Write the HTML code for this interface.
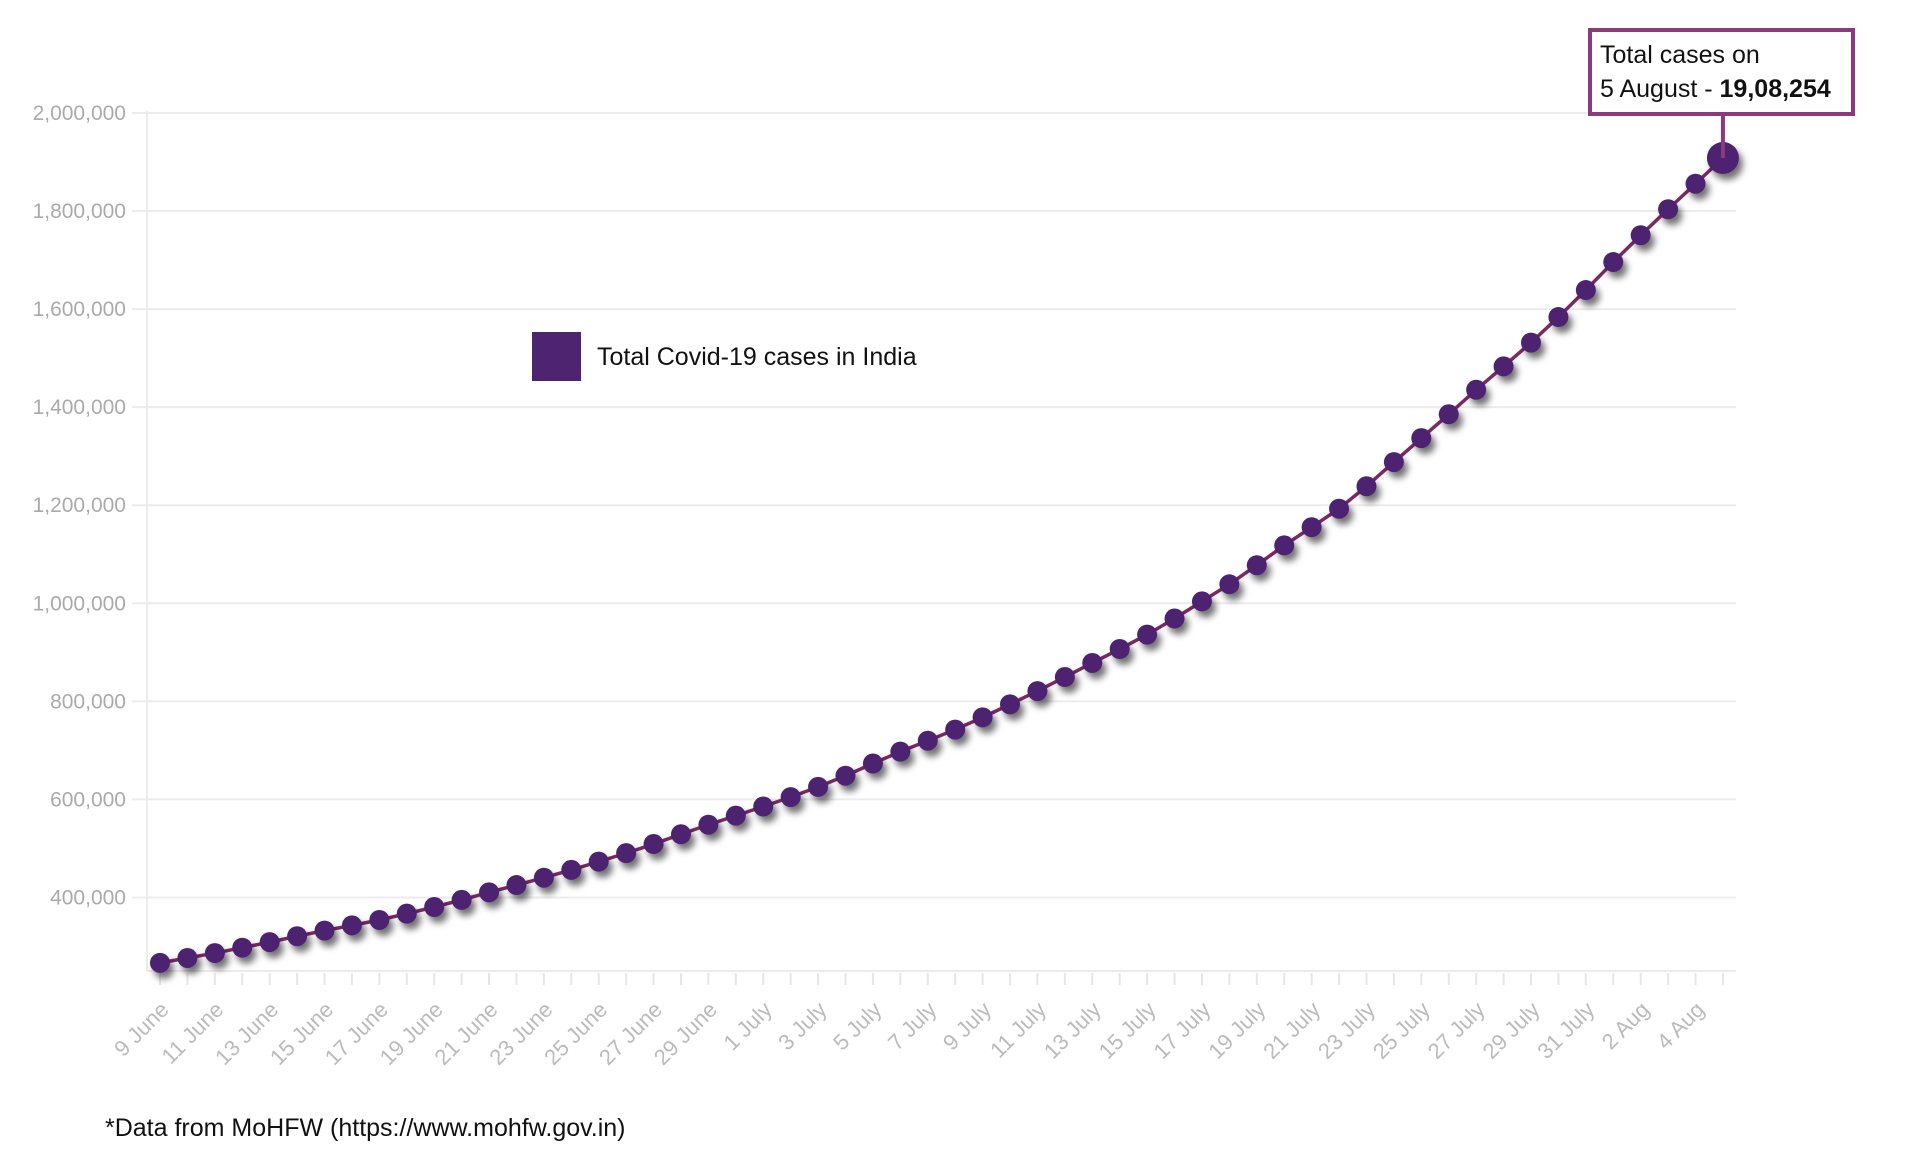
<!DOCTYPE html>
<html><head><meta charset="utf-8"><style>
html,body{margin:0;padding:0;background:#fff;}
svg{display:block;font-family:"Liberation Sans",sans-serif;}
</style></head><body>
<svg id="chart" width="1920" height="1154" viewBox="0 0 1920 1154">
<defs>
<filter id="sh" x="-60%" y="-60%" width="260%" height="260%">
<feDropShadow dx="4" dy="6" stdDeviation="3.5" flood-color="#000" flood-opacity="0.55"/>
</filter>
</defs>
<g id="grid"></g>
<g id="yaxis"></g>
<g id="xaxis"></g>
<g id="series"></g>
<g>
<rect x="532" y="332" width="49" height="49" fill="#4e2470"/>
<text x="597" y="365" font-size="25" fill="#111">Total Covid-19 cases in India</text>
</g>
<g>
<line id="callLine" x1="1723" y1="115" x2="1723" y2="140" stroke="#8b3a7e" stroke-width="4"/>
<rect x="1590" y="30" width="263" height="84" fill="#fff" stroke="#8b3a7e" stroke-width="4"/>
<text x="1600" y="63" font-size="25" fill="#111">Total cases on</text>
<text x="1600" y="97" font-size="25" fill="#111">5 August - <tspan font-weight="bold">19,08,254</tspan></text>
</g>
<text x="105" y="1136" font-size="25" fill="#111">*Data from MoHFW (https://www.mohfw.gov.in)</text>
</svg>
<script>
const dates = ["9 June","10 June","11 June","12 June","13 June","14 June","15 June","16 June","17 June","18 June","19 June","20 June","21 June","22 June","23 June","24 June","25 June","26 June","27 June","28 June","29 June","30 June","1 July","2 July","3 July","4 July","5 July","6 July","7 July","8 July","9 July","10 July","11 July","12 July","13 July","14 July","15 July","16 July","17 July","18 July","19 July","20 July","21 July","22 July","23 July","24 July","25 July","26 July","27 July","28 July","29 July","30 July","31 July","1 Aug","2 Aug","3 Aug","4 Aug","5 Aug"];
const cases = [266598,276583,286579,297535,308993,320922,332424,343091,354065,366946,380532,395048,410461,425282,440215,456183,473105,490401,508953,528859,548318,566840,585493,604641,625544,648315,673165,697413,719665,742417,767296,793802,820916,849553,878254,906752,936181,968876,1003832,1038716,1077618,1118043,1155191,1192915,1238635,1287945,1336861,1385522,1435453,1483156,1531669,1583792,1638870,1695988,1750723,1803695,1855745,1908254];
const yTicks = [400000,600000,800000,1000000,1200000,1400000,1600000,1800000,2000000];
const yMin = 250000, yMax = 2000000;

const NS = "http://www.w3.org/2000/svg";
const X0 = 160, DX = 27.42, Y0 = 971, Y1 = 113;
function xs(i){ return X0 + i*DX; }
function ys(v){ return Y0 - (v - yMin)/(yMax - yMin)*(Y0 - Y1); }
function mk(tag, attrs, parent){ const e = document.createElementNS(NS, tag); for (const k in attrs) e.setAttribute(k, attrs[k]); parent.appendChild(e); return e; }

const grid = document.getElementById('grid'), yax = document.getElementById('yaxis'), xax = document.getElementById('xaxis'), ser = document.getElementById('series');
yTicks.forEach(t => {
  const y = ys(t);
  const l = mk('line', {x1:132, x2:1736, y1:y, y2:y, stroke:'#ececec', 'stroke-width':2}, grid);
  
  
  const tx = mk('text', {x:126, y:y+7, 'font-size':21, fill:'#aaa', 'text-anchor':'end'}, yax);
  tx.textContent = t.toLocaleString('en-US');
  
  
});
const base = mk('line', {x1:147, x2:1736, y1:Y0, y2:Y0, stroke:'#ececec', 'stroke-width':2}, grid);


const vax = mk('line', {x1:147, x2:147, y1:Y1-2, y2:Y0, stroke:'#ececec', 'stroke-width':2}, grid);



dates.forEach((d, i) => {
  const x = xs(i);
  const tk = mk('line', {x1:x, x2:x, y1:Y0+2, y2:Y0+14, stroke:'#e6e6e6', 'stroke-width':2}, xax);
  
  
  if (i % 2 === 0 && i < dates.length - 1) {
    const t = mk('text', {x:x+10, y:Y0+40, 'font-size':22, fill:'#bbb', 'text-anchor':'end', transform:`rotate(-45 ${x+10} ${Y0+40})`}, xax);
    t.textContent = d;
    
    
  }
});

const pts = cases.map((v, i) => xs(i) + ',' + ys(v)).join(' ');
const pl = mk('polyline', {points:pts, fill:'none', stroke:'#7a2a62', 'stroke-width':3.5}, ser);


cases.forEach((v, i) => {
  const last = i === cases.length - 1;
  const c = mk('circle', {cx:xs(i), cy:ys(v), r:last ? 16 : 10, fill:'#4e2470', filter:'url(#sh)'}, ser);
  
  
});
document.getElementById('callLine').setAttribute('x1', xs(cases.length-1));
document.getElementById('callLine').setAttribute('x2', xs(cases.length-1));
document.getElementById('callLine').setAttribute('y2', ys(cases[cases.length-1]));
</script>
</body></html>
